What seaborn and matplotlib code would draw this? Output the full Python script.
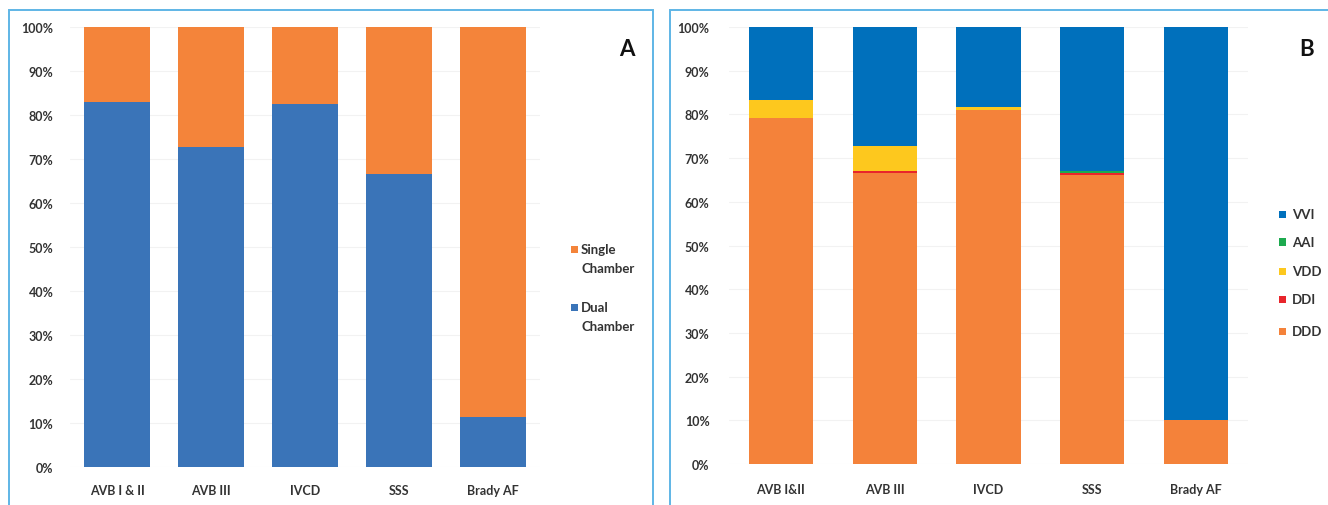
import numpy as np
import matplotlib
matplotlib.use("Agg")
import matplotlib.pyplot as plt
from matplotlib.patches import Rectangle
import seaborn as sns

# Indications (x categories) for both panels
cats_a = ["AVB I & II", "AVB III", "IVCD", "SSS", "Brady AF"]
cats_b = ["AVB I&II", "AVB III", "IVCD", "SSS", "Brady AF"]

# Panel A: share of dual vs single chamber devices (%)
dual_chamber = [83.0, 72.7, 82.5, 66.7, 11.3]
single_chamber = [17.0, 27.3, 17.5, 33.3, 88.7]

# Panel B: pacing mode share (%), stacked bottom to top DDD, DDI, VDD, AAI, VVI
ddd = [79.2, 66.6, 81.0, 66.1, 10.1]
ddi = [0.0, 0.4, 0.0, 0.5, 0.0]
vdd = [4.0, 5.7, 0.7, 0.0, 0.0]
aai = [0.2, 0.0, 0.0, 0.4, 0.0]
vvi = [16.6, 27.3, 18.3, 33.0, 89.9]

W, H = 1328, 506
sns.set_theme(style="white")
plt.rcParams["font.family"] = ["Lato", "DejaVu Sans"]

TXT = "#333333"
FRAME = "#5FB6E6"

fig = plt.figure(figsize=(W / 100, H / 100), dpi=100)
fig.patch.set_facecolor("white")


def px_axes(x0, y_top, x1, y_bottom):
    return fig.add_axes([x0 / W, 1 - y_bottom / H, (x1 - x0) / W, (y_bottom - y_top) / H])


def stacked(ax, cats, layers, colors, width):
    # Draw cumulative totals from the top layer down so each layer shows its own slice
    cum = np.cumsum(np.array(layers, dtype=float), axis=0) / 100.0
    for level in range(len(layers) - 1, -1, -1):
        sns.barplot(x=cats, y=cum[level], order=cats, color=colors[level],
                    saturation=1, width=width, linewidth=0, ax=ax, zorder=2)


def style_axes(ax, ypad, xpad):
    ax.set_xlim(-0.5, 4.5)
    ax.set_ylim(0, 1)
    ticks = np.linspace(0, 1, 11)
    ax.set_yticks(ticks)
    ax.set_yticklabels([f"{int(round(t * 100))}%" for t in ticks])
    ax.yaxis.grid(True, color="#F2F2F2", linewidth=0.8, zorder=0)
    ax.set_axisbelow(True)
    for s in ax.spines.values():
        s.set_visible(False)
    ax.tick_params(axis="y", length=0, pad=ypad, labelsize=9, labelcolor=TXT)
    ax.tick_params(axis="x", length=0, pad=xpad, labelsize=9, labelcolor=TXT)
    for lab in ax.get_xticklabels() + ax.get_yticklabels():
        lab.set_fontweight("bold")
    ax.set_xlabel("")
    ax.set_ylabel("")
    ax.set_facecolor("none")


# Panel A
ax_a = px_axes(70, 28, 540, 468)
stacked(ax_a, cats_a, [dual_chamber, single_chamber], ["#3A74B8", "#F4843A"], 0.70)
style_axes(ax_a, 12, 12)

# Panel B
ax_b = px_axes(729, 28, 1248, 465)
b_colors = ["#F4823A", "#E8252B", "#FDC81E", "#1DAA4F", "#0070BC"]
stacked(ax_b, cats_b, [ddd, ddi, vdd, aai, vvi], b_colors, 0.62)
style_axes(ax_b, 14, 14)

# Panel frames
fig.add_artist(Rectangle((9 / W, -0.1), (653 - 9) / W, 1.1 - 11 / H,
                         transform=fig.transFigure, fill=False,
                         edgecolor=FRAME, linewidth=1.4))
fig.add_artist(Rectangle((670 / W, -0.1), (1340 - 670) / W, 1.1 - 11 / H,
                         transform=fig.transFigure, fill=False,
                         edgecolor=FRAME, linewidth=1.4))

# Panel letters
fig.text(627 / W, 1 - 49 / H, "A", ha="center", va="center",
         fontsize=16, fontweight="bold", color="#111111")
fig.text(1307 / W, 1 - 50 / H, "B", ha="center", va="center",
         fontsize=16, fontweight="bold", color="#111111")


def legend_entry(x_sq, x_txt, y, color, lines, step):
    sq = 7
    fig.add_artist(Rectangle((x_sq / W, 1 - (y + sq / 2) / H), sq / W, sq / H,
                             transform=fig.transFigure, facecolor=color,
                             edgecolor="none"))
    for i, line in enumerate(lines):
        fig.text(x_txt / W, 1 - (y + i * step) / H, line, ha="left",
                 va="center", fontsize=9.5, fontweight="bold", color=TXT)


# Panel A legend
legend_entry(571, 581, 250, "#F4843A", ["Single", "Chamber"], 19)
legend_entry(571, 581, 308, "#3A74B8", ["Dual", "Chamber"], 19)

# Panel B legend, top entry is the top layer
b_labels = ["DDD", "DDI", "VDD", "AAI", "VVI"]
b_ys = [332, 300, 272, 243, 215]
for lab, col, yy in zip(b_labels, b_colors, b_ys):
    legend_entry(1279, 1292, yy, col, [lab], 0)

fig.savefig("out.png", dpi=100, facecolor="white")
